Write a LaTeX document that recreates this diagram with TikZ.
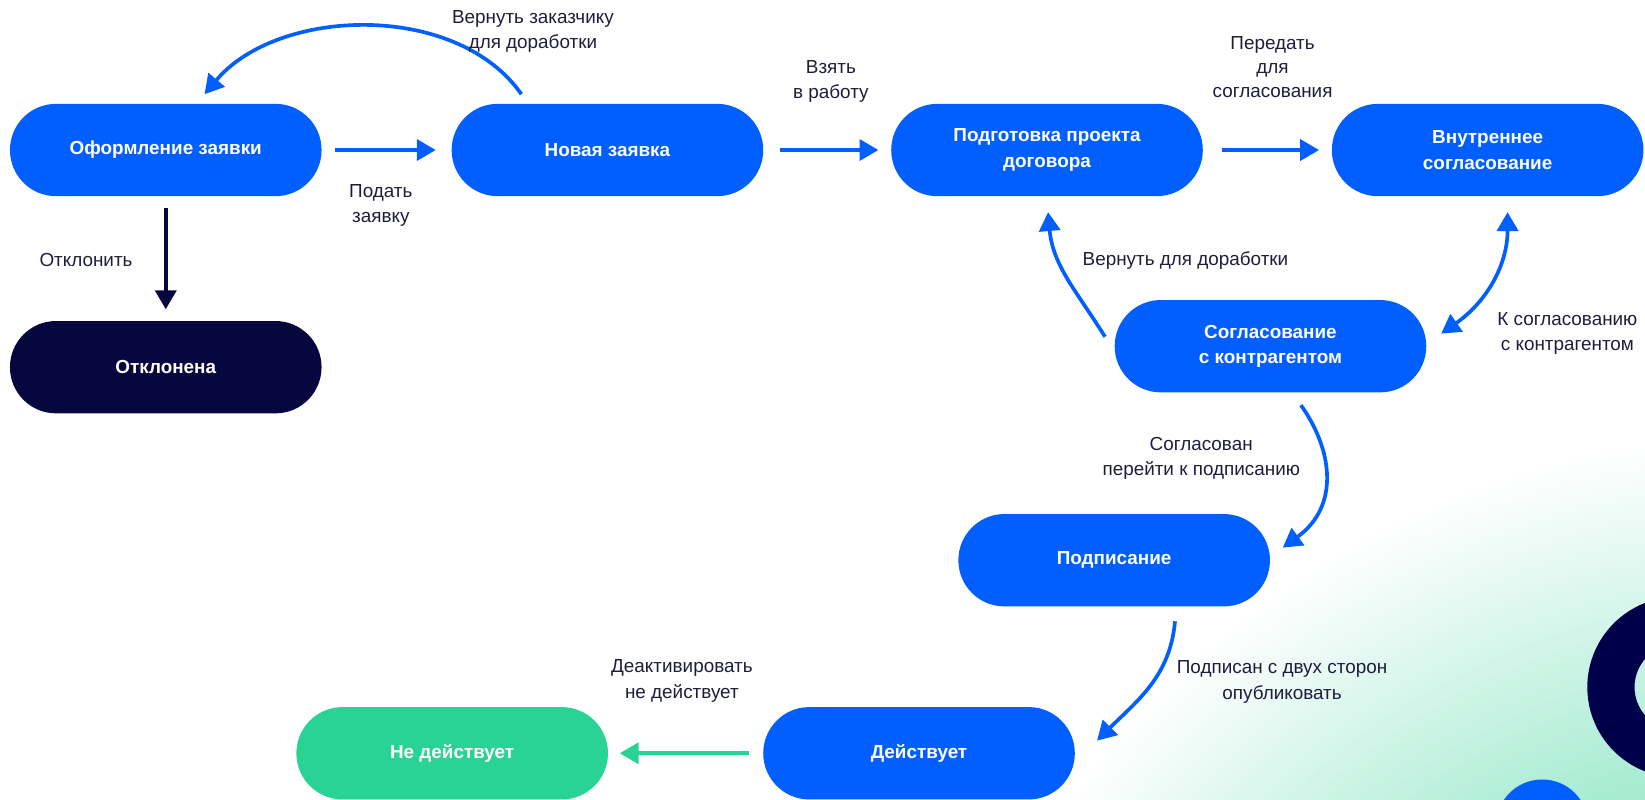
\documentclass[tikz,border=0pt]{standalone}
\usepackage{fontspec}
\setmainfont{Liberation Sans}
\usetikzlibrary{arrows.meta,calc}
\definecolor{cblue}{HTML}{005FFE}
\definecolor{cnavy}{HTML}{07073F}
\definecolor{cgreen}{HTML}{29D396}
\definecolor{ctext}{HTML}{1E1E3C}
\definecolor{cmint}{HTML}{A2EAD0}
\definecolor{cring}{HTML}{00004A}
\begin{document}
\begin{tikzpicture}[x=1pt,y=1pt,
  state/.style={rectangle, rounded corners=43.9pt, fill=cblue, text=white,
    font=\bfseries\fontsize{18}{24}\selectfont, minimum width=297pt,
    minimum height=88pt, align=center, inner sep=0pt},
  lbl/.style={text=ctext, font=\fontsize{18}{24}\selectfont, align=center},
  arr/.style={draw=cblue, line width=3.5pt, -{Triangle[length=18pt,width=20pt]}},
  dblarr/.style={draw=cblue, line width=3.5pt, {Triangle[length=18pt,width=20pt]}-{Triangle[length=18pt,width=20pt]}},
]
\useasboundingbox (0,0) rectangle (1568,-762);
% background decoration
\begin{scope}
\clip (0,0) rectangle (1568,-762);
\foreach \i in {0,...,64} {
  \pgfmathsetmacro\rr{840-\i*5.3125}
  \pgfmathsetmacro\pc{\i*1.5625}
  \fill[cmint!\pc!white] (1700,-1250) circle[radius=\rr pt];
}
\fill[cring, even odd rule] (1599,-655) circle[radius=86pt] (1599,-655) circle[radius=41pt];
\fill[cblue] (1470,-787) circle[radius=44pt];
\end{scope}

% states
\node[state] (oz) at (158,-143) {Оформление заявки};
\node[state] (nz) at (579,-143) {Новая заявка};
\node[state] (pp) at (998,-143) {Подготовка проекта\\договора};
\node[state] (vs) at (1418,-143) {Внутреннее\\согласование};
\node[state, fill=cnavy] (ot) at (158,-350) {Отклонена};
\node[state] (sk) at (1211,-330) {Согласование\\с контрагентом};
\node[state] (ps) at (1062,-534) {Подписание};
\node[state] (de) at (876,-718) {Действует};
\node[state, fill=cgreen] (nd) at (431,-718) {Не действует};

% connectors
\draw[arr] ([xshift=13pt]oz.east) -- ([xshift=-15pt]nz.west);
\draw[arr] ([xshift=16pt]nz.east) -- ([xshift=-12pt]pp.west);
\draw[arr] ([xshift=18pt]pp.east) -- ([xshift=-12pt]vs.west);
\draw[arr] ([xshift=-82pt,yshift=9pt]nz.north) to[out=125,in=50,looseness=0.92] ([xshift=37pt,yshift=9pt]oz.north);
\draw[draw=cnavy, line width=3.5pt, -{Triangle[length=18pt,width=20pt]}] ([yshift=-11pt]oz.south) -- ([yshift=11pt]ot.north);
\draw[arr] ([xshift=-9pt,yshift=9pt]sk.west) to[out=122,in=-85] ([xshift=1pt,yshift=-15pt]pp.south);
\draw[dblarr] ([xshift=19pt,yshift=-15pt]vs.south) to[out=-90,in=35] ([xshift=14pt,yshift=12pt]sk.east);
\draw[arr] ([xshift=29pt,yshift=-12pt]sk.south) .. controls +(30,-42) and +(55,40) .. ([xshift=12pt,yshift=12pt]ps.east);
\draw[arr] ([xshift=58pt,yshift=-14pt]ps.south) to[out=-95,in=45] ([xshift=21pt,yshift=12pt]de.east);
\draw[draw=cgreen, line width=3.5pt, -{Triangle[length=18pt,width=20pt]}] ([xshift=-13pt]de.west) -- ([xshift=11pt]nd.east);

% labels
\node[lbl] (l1) at (508,-30) {Вернуть заказчику\\для доработки};
\node[lbl] (l2) at (363,-196) {Подать\\заявку};
\node[lbl] (l3) at (792,-78) {Взять\\в работу};
\node[lbl, font=\fontsize{18}{22.5}\selectfont] (l4) at (1213,-64) {Передать\\для\\согласования};
\node[lbl] (l5) at (82,-248) {Отклонить};
\node[lbl] (l6) at (1130,-248) {Вернуть для доработки};
\node[lbl] (l7) at (1494,-318) {К согласованию\\с контрагентом};
\node[lbl] (l8) at (1145,-437) {Согласован\\перейти к подписанию};
\node[lbl] (l9) at (1222,-650) {Подписан с двух сторон\\опубликовать};
\node[lbl] (l10) at (650,-649) {Деактивировать\\не действует};
\end{tikzpicture}
\end{document}
